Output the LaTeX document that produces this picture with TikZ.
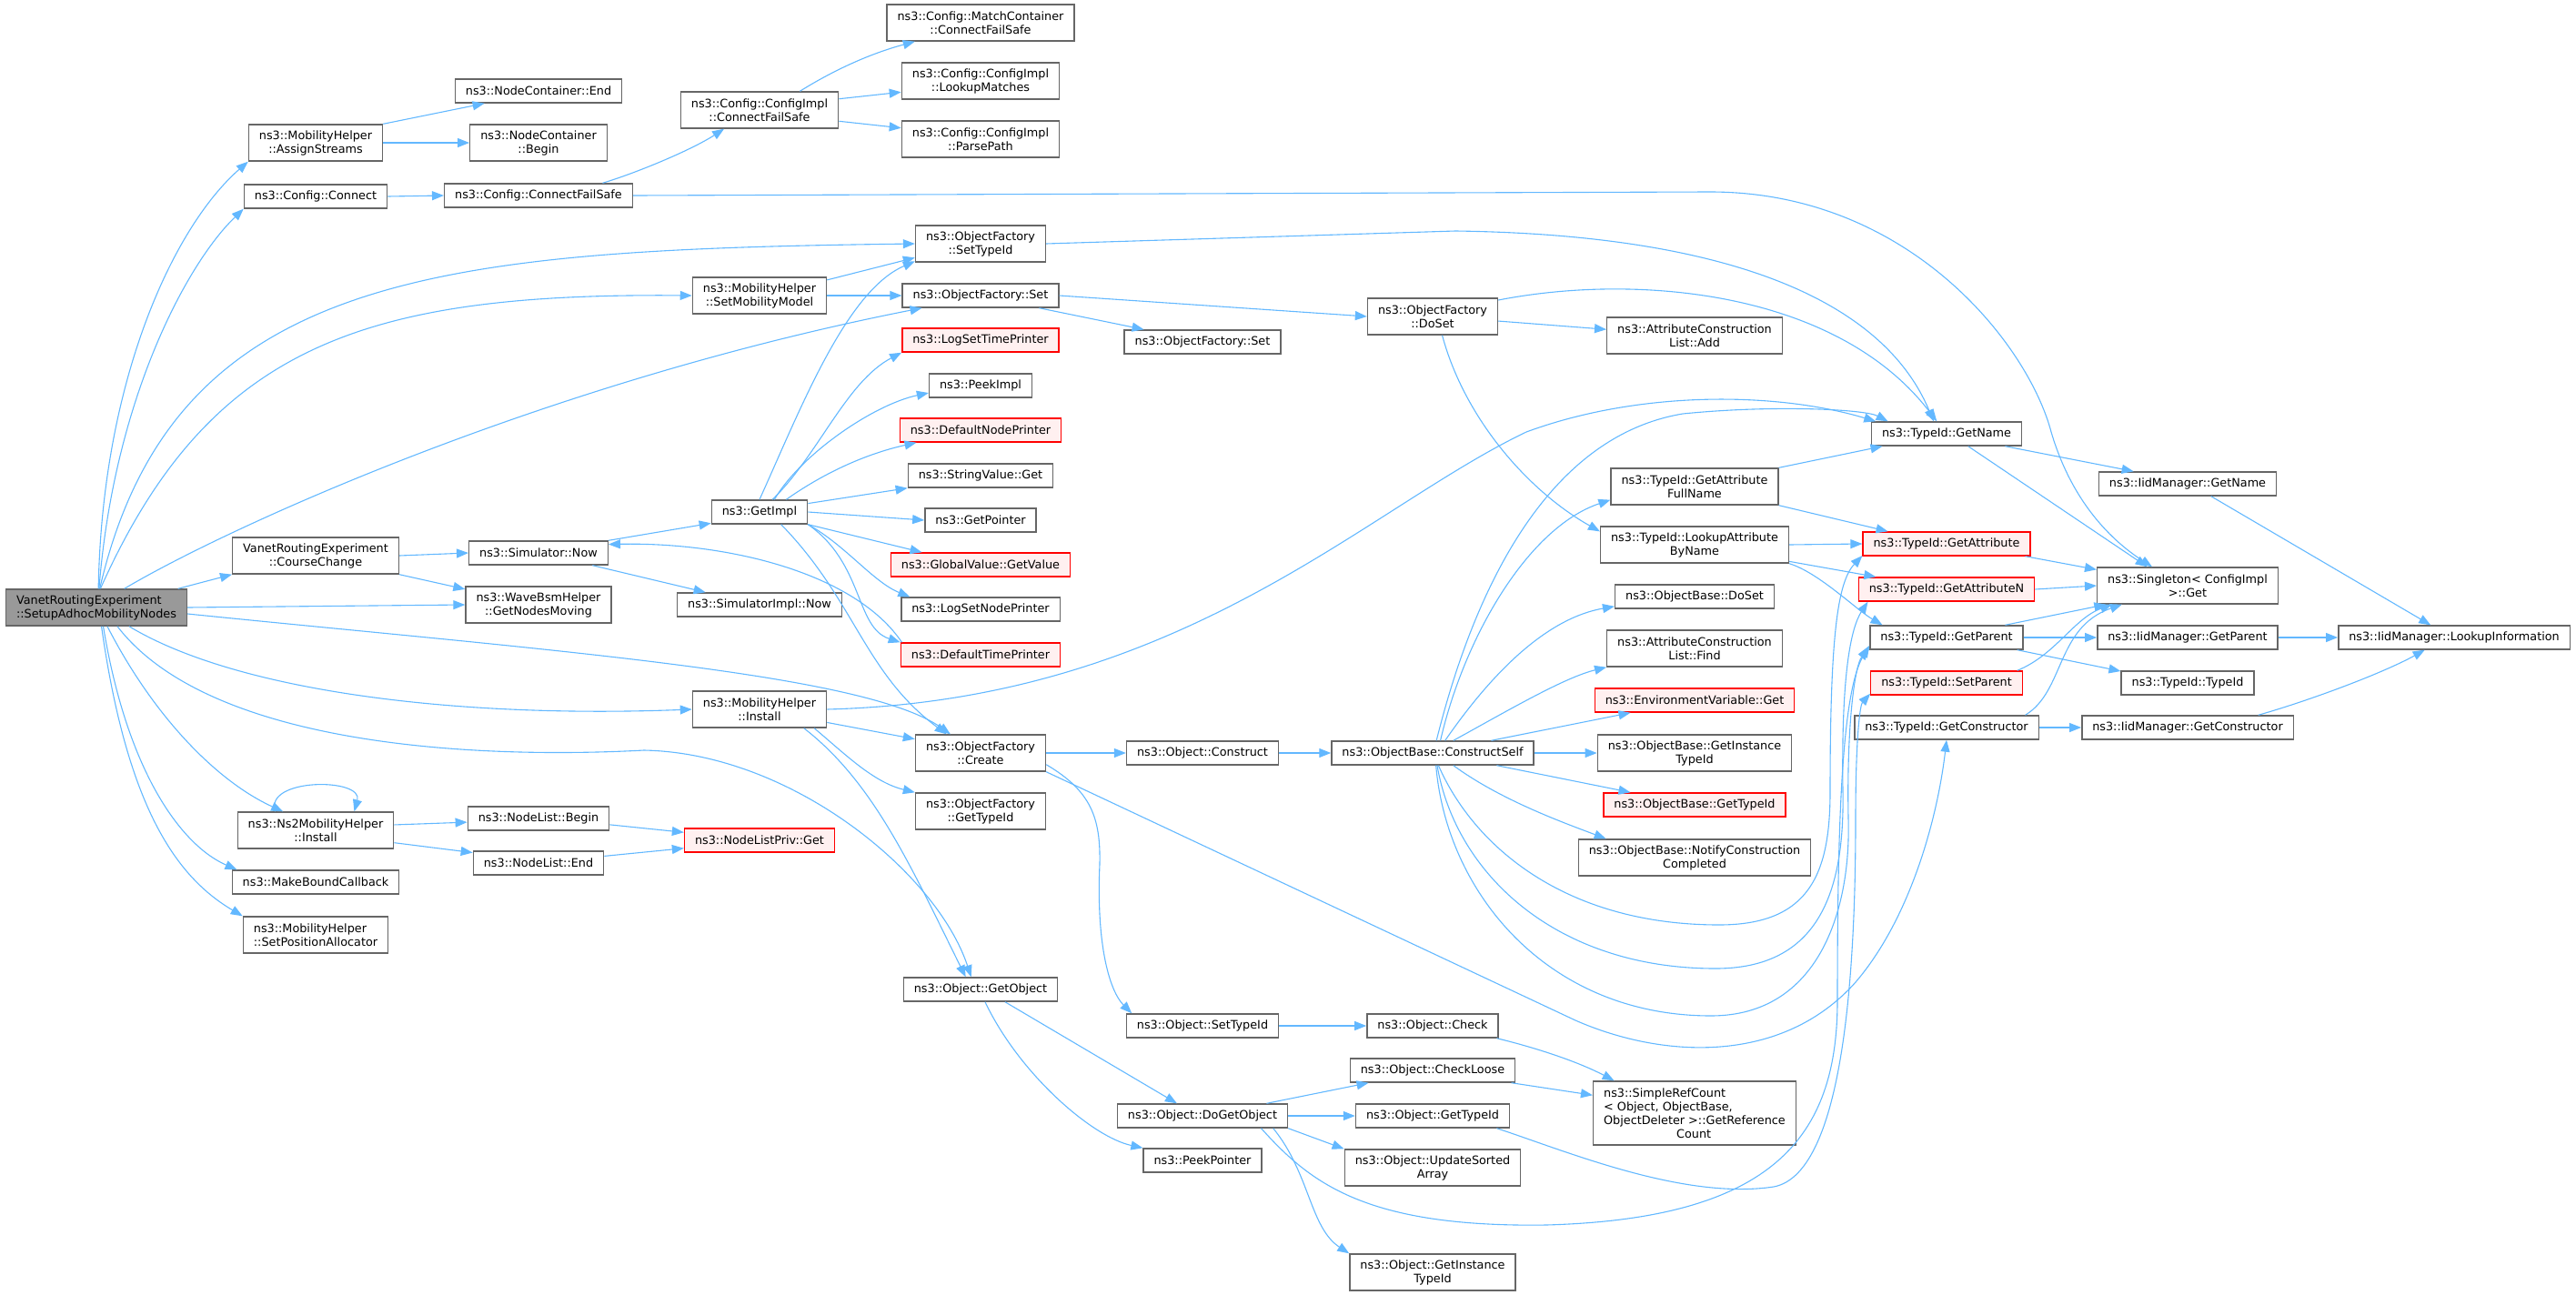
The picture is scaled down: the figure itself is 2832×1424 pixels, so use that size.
\documentclass[tikz,border=0pt]{standalone}
\usepackage{fontspec}
\newfontfamily\dxfont{DejaVu Sans}
\usetikzlibrary{arrows.meta}
\definecolor{edgeblue}{HTML}{63B8FF}
\definecolor{boxgrey}{HTML}{666666}
\definecolor{rootgrey}{HTML}{999999}
\definecolor{redfill}{HTML}{FFF0F0}
\begin{document}
\begin{tikzpicture}[x=1pt,y=-1pt,
	fn/.style={draw=boxgrey, fill=white, line width=1.4pt, font=\dxfont\fontsize{12.8}{15}\selectfont, inner xsep=11.5pt, inner ysep=2pt, minimum height=26pt, align=center},
	fnred/.style={fn, draw=red, fill=redfill},
	fnroot/.style={fn, fill=rootgrey},
	dbl/.style={minimum height=40pt},
	calls/.style={draw=edgeblue, line width=1.1pt, -{Triangle[length=13pt,width=10pt]}}]
	\useasboundingbox (0,0) rectangle (2832,1424);

	% column 0 and 1
	\node[fnroot,dbl,align=left] (S) at (106,668) {VanetRoutingExperiment\\::SetupAdhocMobilityNodes};
	\node[fn,dbl] (AS) at (347,157) {ns3::MobilityHelper\\::AssignStreams};
	\node[fn] (CC) at (347,216) {ns3::Config::Connect};
	\node[fn,dbl] (CCh) at (347,611) {VanetRoutingExperiment\\::CourseChange};
	\node[fn,dbl] (NMI) at (347,913) {ns3::Ns2MobilityHelper\\::Install};
	\node[fn] (MBC) at (347,970) {ns3::MakeBoundCallback};
	\node[fn,dbl,align=left] (SPA) at (347,1028) {ns3::MobilityHelper\\::SetPositionAllocator};

	% column 2
	\node[fn] (NCE) at (592,100) {ns3::NodeContainer::End};
	\node[fn,dbl] (NCB) at (592,157) {ns3::NodeContainer\\::Begin};
	\node[fn] (CFS) at (592,215) {ns3::Config::ConnectFailSafe};
	\node[fn] (SN) at (592,608) {ns3::Simulator::Now};
	\node[fn,dbl] (WB) at (592,665) {ns3::WaveBsmHelper\\::GetNodesMoving};
	\node[fn] (NLB) at (592,900) {ns3::NodeList::Begin};
	\node[fn] (NLE) at (592,949) {ns3::NodeList::End};

	% column 3
	\node[fn,dbl] (CIC) at (835,121) {ns3::Config::ConfigImpl\\::ConnectFailSafe};
	\node[fn,dbl] (SMM) at (835,325) {ns3::MobilityHelper\\::SetMobilityModel};
	\node[fn] (GI) at (835,563) {ns3::GetImpl};
	\node[fn] (SIN) at (835,665) {ns3::SimulatorImpl::Now};
	\node[fn,dbl] (MHI) at (835,780) {ns3::MobilityHelper\\::Install};
	\node[fnred] (NLPG) at (835,924) {ns3::NodeListPriv::Get};

	% column 4
	\node[fn,dbl] (MCC) at (1078,25) {ns3::Config::MatchContainer\\::ConnectFailSafe};
	\node[fn,dbl] (CLM) at (1078,89) {ns3::Config::ConfigImpl\\::LookupMatches};
	\node[fn,dbl] (CPP) at (1078,153) {ns3::Config::ConfigImpl\\::ParsePath};
	\node[fn,dbl] (OFST) at (1078,268) {ns3::ObjectFactory\\::SetTypeId};
	\node[fn] (OFS) at (1078,325) {ns3::ObjectFactory::Set};
	\node[fnred] (LSTP) at (1078,374) {ns3::LogSetTimePrinter};
	\node[fn] (PI) at (1078,424) {ns3::PeekImpl};
	\node[fnred] (DNP) at (1078,473) {ns3::DefaultNodePrinter};
	\node[fn] (SVG) at (1078,523) {ns3::StringValue::Get};
	\node[fn] (GP) at (1078,572) {ns3::GetPointer};
	\node[fnred] (GVG) at (1078,621) {ns3::GlobalValue::GetValue};
	\node[fn] (LSNP) at (1078,670) {ns3::LogSetNodePrinter};
	\node[fnred] (DTP) at (1078,720) {ns3::DefaultTimePrinter};
	\node[fn,dbl] (OFC) at (1078,828) {ns3::ObjectFactory\\::Create};
	\node[fn,dbl] (OFG) at (1078,892) {ns3::ObjectFactory\\::GetTypeId};
	\node[fn] (OGO) at (1078,1088) {ns3::Object::GetObject};

	% column 5
	\node[fn] (OFS2) at (1322,376) {ns3::ObjectFactory::Set};
	\node[fn] (OC) at (1322,828) {ns3::Object::Construct};
	\node[fn] (OST) at (1322,1128) {ns3::Object::SetTypeId};
	\node[fn] (ODGO) at (1322,1227) {ns3::Object::DoGetObject};
	\node[fn] (PP) at (1322,1276) {ns3::PeekPointer};

	% column 6
	\node[fn,dbl] (OFDS) at (1575,348) {ns3::ObjectFactory\\::DoSet};
	\node[fn] (OBCS) at (1575,828) {ns3::ObjectBase::ConstructSelf};
	\node[fn] (OCk) at (1575,1128) {ns3::Object::Check};
	\node[fn] (OCL) at (1575,1177) {ns3::Object::CheckLoose};
	\node[fn] (OGT) at (1575,1227) {ns3::Object::GetTypeId};
	\node[fn,dbl] (OUSA) at (1575,1284) {ns3::Object::UpdateSorted\\Array};
	\node[fn,dbl] (OGIT) at (1575,1399) {ns3::Object::GetInstance\\TypeId};

	% column 7
	\node[fn,dbl] (ACLA) at (1863,369) {ns3::AttributeConstruction\\List::Add};
	\node[fn,dbl] (GAFN) at (1863,535) {ns3::TypeId::GetAttribute\\FullName};
	\node[fn,dbl] (LABN) at (1863,599) {ns3::TypeId::LookupAttribute\\ByName};
	\node[fn] (OBDS) at (1863,656) {ns3::ObjectBase::DoSet};
	\node[fn,dbl] (ACLF) at (1863,713) {ns3::AttributeConstruction\\List::Find};
	\node[fnred] (EVG) at (1863,770) {ns3::EnvironmentVariable::Get};
	\node[fn,dbl] (OBGIT) at (1863,828) {ns3::ObjectBase::GetInstance\\TypeId};
	\node[fnred] (OBGT) at (1863,885) {ns3::ObjectBase::GetTypeId};
	\node[fn,dbl] (OBNCC) at (1863,943) {ns3::ObjectBase::NotifyConstruction\\Completed};
	\node[fn,minimum height=70pt,align=left] (SRC) at (1863,1224) {ns3::SimpleRefCount\\< Object, ObjectBase,\\ObjectDeleter >::GetReference\\\hspace*{80pt}Count};

	% column 8
	\node[fn] (TGN) at (2140,477) {ns3::TypeId::GetName};
	\node[fnred] (TGA) at (2140,598) {ns3::TypeId::GetAttribute};
	\node[fnred] (TGAN) at (2140,648) {ns3::TypeId::GetAttributeN};
	\node[fn] (TGP) at (2140,701) {ns3::TypeId::GetParent};
	\node[fnred] (TSP) at (2140,751) {ns3::TypeId::SetParent};
	\node[fn] (TGC) at (2140,800) {ns3::TypeId::GetConstructor};

	% column 9 and 10
	\node[fn] (IGN) at (2405,532) {ns3::IidManager::GetName};
	\node[fn,dbl] (SG) at (2405,644) {ns3::Singleton< ConfigImpl\\ >::Get};
	\node[fn] (IGP) at (2405,701) {ns3::IidManager::GetParent};
	\node[fn] (TTI) at (2405,751) {ns3::TypeId::TypeId};
	\node[fn] (IGC) at (2405,800) {ns3::IidManager::GetConstructor};
	\node[fn] (ILI) at (2698,701) {ns3::IidManager::LookupInformation};

	% calls of the root
	\draw[calls] (S.84) .. controls (112,420) and (190,250) .. (AS.south west);
	\draw[calls] (S.82) .. controls (125,440) and (205,290) .. (CC.south west);
	\draw[calls] (S.80) .. controls (190,300) and (480,275) .. (OFST.west);
	\draw[calls] (S.78) .. controls (230,380) and (400,322) .. (SMM.west);
	\draw[calls] (S.34) .. controls (250,580) and (600,420) .. (OFS.192);
	\draw[calls] (S.13) -- (CCh.south west);
	\draw[calls] (S.east) -- (WB.west);
	\draw[calls] (S.356) .. controls (600,715) and (950,740) .. (OFC.148);
	\draw[calls] (S.330) .. controls (260,760) and (500,790) .. (MHI.west);
	\draw[calls] (S.318) .. controls (230,820) and (520,835) .. (708,825) .. controls (870,828) and (1030,960) .. (OGO.127);
	\draw[calls] (S.300) .. controls (170,790) and (240,860) .. (NMI.150);
	\draw[calls] (S.290) .. controls (140,850) and (200,930) .. (MBC.171);
	\draw[calls] (S.285) .. controls (140,890) and (195,965) .. (SPA.north west);

	\draw[calls] (AS.north east) -- (NCE.193);
	\draw[calls] (AS.east) -- (NCB.west);
	\draw[calls] (CC.east) -- (CFS.west);
	\draw[calls] (CFS.11) .. controls (700,190) and (760,165) .. (CIC.208);
	\draw[calls] (CFS.east) -- (1880,211) .. controls (2100,211) and (2230,380) .. (2255,475) .. controls (2280,560) and (2330,600) .. (SG.152);
	\draw[calls] (CIC.25) .. controls (920,75) and (960,58) .. (MCC.196);
	\draw[calls] (CIC.8) -- (CLM.188);
	\draw[calls] (CIC.352) -- (CPP.172);

	\draw[calls] (SMM.13) -- (OFST.192);
	\draw[calls] (SMM.east) -- (OFS.west);
	\draw[calls] (OFS.348) -- (OFS2.168);
	\draw[calls] (OFS.east) -- (OFDS.west);
	\draw[calls] (OFST.east) -- (1600,254) .. controls (1900,258) and (2070,330) .. (TGN.136);
	\draw[calls] (OFDS.14) .. controls (1800,300) and (2020,320) .. (TGN.128);
	\draw[calls] (OFDS.356) -- (ACLA.176);
	\draw[calls] (OFDS.297) .. controls (1610,460) and (1680,540) .. (LABN.172);

	% simulator calls
	\draw[calls] (CCh.east) -- (SN.west);
	\draw[calls] (CCh.south east) -- (WB.168);
	\draw[calls] (SN.north east) -- (GI.193);
	\draw[calls] (SN.347) -- (SIN.167);
	\draw[calls] (DTP.171) .. controls (940,630) and (800,596) .. (SN.7);
	\draw[calls] (GI.north) .. controls (880,450) and (930,320) .. (OFST.195);
	\draw[calls] (GI.44) .. controls (900,500) and (930,420) .. (LSTP.south west);
	\draw[calls] (GI.40) .. controls (880,500) and (960,445) .. (PI.188);
	\draw[calls] (GI.25) .. controls (920,510) and (970,495) .. (DNP.191);
	\draw[calls] (GI.10) -- (SVG.south west);
	\draw[calls] (GI.east) -- (GP.west);
	\draw[calls] (GI.south east) -- (GVG.168);
	\draw[calls] (GI.south east) .. controls (930,600) and (960,640) .. (LSNP.170);
	\draw[calls] (GI.south east) .. controls (950,620) and (940,690) .. (DTP.north west);
	\draw[calls] (GI.330) .. controls (940,660) and (950,740) .. (OFC.151);

	\draw[calls] (MHI.349) -- (OFC.168);
	\draw[calls] (MHI.341) .. controls (930,830) and (960,860) .. (OFG.north west);
	\draw[calls] (MHI.337) .. controls (960,860) and (1000,950) .. (OGO.140);
	\draw[calls] (MHI.east) .. controls (1300,770) and (1500,560) .. (1678,475) .. controls (1800,430) and (1950,430) .. (TGN.170);

	\draw[calls] (OFC.east) -- (OC.west);
	\draw[calls] (OFC.350) .. controls (1200,870) and (1210,900) .. (1209,950) .. controls (1205,1040) and (1220,1090) .. (OST.170);
	\draw[calls] (OFC.south east) -- (1732,1122) .. controls (1830,1165) and (1960,1170) .. (2040,1080) .. controls (2100,1010) and (2130,900) .. (TGC.south);
	\draw[calls] (OC.east) -- (OBCS.west);

	% construct self
	\draw[calls] (OBCS.73) .. controls (1620,650) and (1700,480) .. (1850,455) .. controls (1950,445) and (2050,450) .. (TGN.168);
	\draw[calls] (OBCS.58) .. controls (1610,700) and (1680,580) .. (GAFN.189);
	\draw[calls] (OBCS.45) .. controls (1640,740) and (1700,680) .. (OBDS.187);
	\draw[calls] (OBCS.31) .. controls (1660,780) and (1720,745) .. (ACLF.south west);
	\draw[calls] (OBCS.12) -- (EVG.191);
	\draw[calls] (OBCS.east) -- (OBGIT.west);
	\draw[calls] (OBCS.349) -- (OBGT.169);
	\draw[calls] (OBCS.329) .. controls (1650,880) and (1720,905) .. (OBNCC.168);
	\draw[calls] (OBCS.295) .. controls (1620,930) and (1720,1017) .. (1890,1017) .. controls (1990,1017) and (2012,960) .. (2012,870) .. controls (2012,700) and (2020,640) .. (TGA.188);
	\draw[calls] (OBCS.290) .. controls (1600,960) and (1710,1065) .. (1886,1065) .. controls (2000,1065) and (2028,980) .. (2026,870) .. controls (2024,740) and (2035,690) .. (TGAN.189);
	\draw[calls] (OBCS.285) .. controls (1590,980) and (1700,1117) .. (1881,1117) .. controls (2000,1117) and (2035,1000) .. (2032,900) .. controls (2030,790) and (2040,730) .. (TGP.188);

	% objects
	\draw[calls] (OGO.333) -- (ODGO.154);
	\draw[calls] (OGO.290) .. controls (1120,1180) and (1200,1250) .. (PP.north west);
	\draw[calls] (OST.east) -- (OCk.west);
	\draw[calls] (OCk.349) .. controls (1680,1150) and (1730,1165) .. (SRC.158);
	\draw[calls] (OCL.351) -- (SRC.170);
	\draw[calls] (ODGO.11) -- (OCL.191);
	\draw[calls] (ODGO.east) -- (OGT.west);
	\draw[calls] (ODGO.south east) -- (OUSA.north west);
	\draw[calls] (ODGO.350) .. controls (1440,1290) and (1440,1350) .. (OGIT.north west);
	\draw[calls] (ODGO.348) .. controls (1440,1300) and (1500,1350) .. (1700,1347) .. controls (1950,1340) and (2020,1250) .. (2020,1100) .. controls (2020,900) and (2025,760) .. (TGP.186);
	\draw[calls] (OGT.349) .. controls (1720,1265) and (1850,1320) .. (1950,1305) .. controls (2030,1290) and (2040,1050) .. (2040,900) .. controls (2040,810) and (2045,775) .. (TSP.188);

	% node list
	\draw[calls] (NMI.155) .. controls (290,855) and (400,855) .. (NMI.26);
	\draw[calls] (NMI.4) -- (NLB.183);
	\draw[calls] (NMI.351) -- (NLE.171);
	\draw[calls] (NLB.355) -- (NLPG.174);
	\draw[calls] (NLE.6) -- (NLPG.186);

	% type id
	\draw[calls] (GAFN.north east) -- (TGN.191);
	\draw[calls] (GAFN.south east) -- (TGA.168);
	\draw[calls] (LABN.east) -- (TGA.west);
	\draw[calls] (LABN.350) -- (TGAN.170);
	\draw[calls] (LABN.south east) .. controls (2000,630) and (2040,670) .. (TGP.169);
	\draw[calls] (TGN.348) -- (IGN.167);
	\draw[calls] (TGN.330) -- (SG.155);
	\draw[calls] (TGA.351) -- (SG.170);
	\draw[calls] (TGAN.east) -- (SG.west);
	\draw[calls] (TGP.12) -- (SG.193);
	\draw[calls] (TGP.east) -- (IGP.west);
	\draw[calls] (TGP.350) -- (TTI.170);
	\draw[calls] (TSP.10) .. controls (2260,720) and (2280,680) .. (SG.194);
	\draw[calls] (TGC.9) .. controls (2270,760) and (2260,690) .. (SG.196);
	\draw[calls] (TGC.east) -- (IGC.west);
	\draw[calls] (IGN.332) -- (ILI.152);
	\draw[calls] (IGP.east) -- (ILI.west);
	\draw[calls] (IGC.10) .. controls (2540,770) and (2620,740) .. (ILI.203);
\end{tikzpicture}
\end{document}
